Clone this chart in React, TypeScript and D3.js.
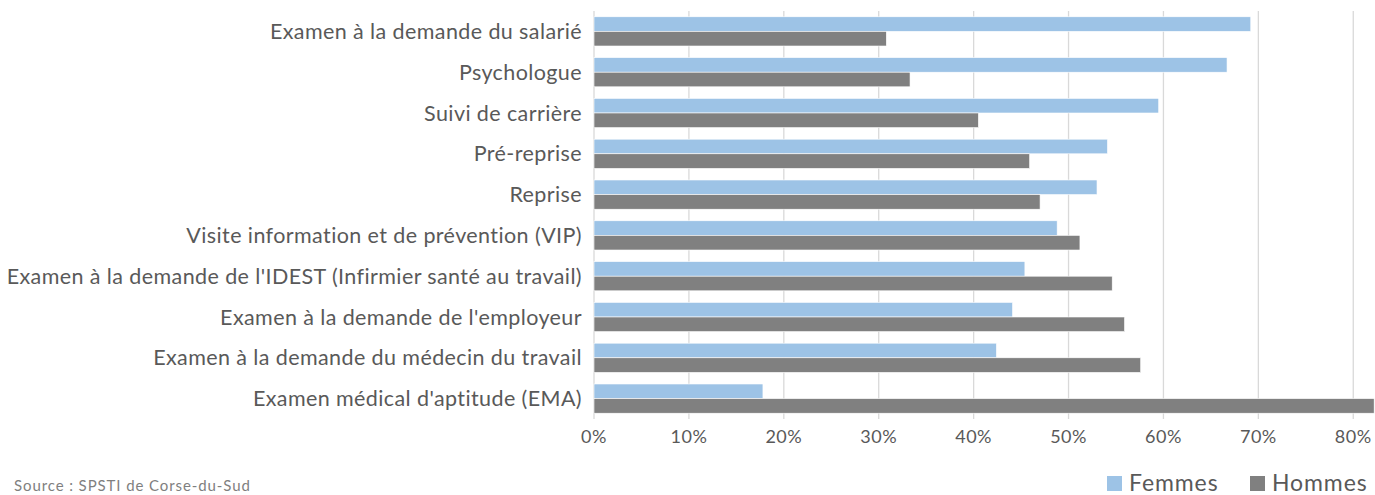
import React from "react";
import * as d3 from "d3";

// categories top to bottom
const categories = [
  "Examen à la demande du salarié",
  "Psychologue",
  "Suivi de carrière",
  "Pré-reprise",
  "Reprise",
  "Visite information et de prévention (VIP)",
  "Examen à la demande de l'IDEST (Infirmier santé au travail)",
  "Examen à la demande de l'employeur",
  "Examen à la demande du médecin du travail",
  "Examen médical d'aptitude (EMA)",
];

const femmes = [0.692, 0.667, 0.595, 0.541, 0.53, 0.488, 0.454, 0.441, 0.424, 0.178];
const hommes = [0.308, 0.333, 0.405, 0.459, 0.47, 0.512, 0.546, 0.559, 0.576, 0.822];

const xTicks = [0, 0.1, 0.2, 0.3, 0.4, 0.5, 0.6, 0.7, 0.8];

const seriesNames = ["Femmes", "Hommes"];
const colors = ["#9DC3E6", "#808080"];

const W = 1375;
const H = 495;
const margin = { top: 11, right: 0, bottom: 76, left: 594 };
const font = "Lato, 'Open Sans', sans-serif";

const App = () => {
  const x = d3
    .scaleLinear()
    .domain([0, 0.8229])
    .range([margin.left, W - margin.right]);

  const y = d3
    .scaleBand()
    .domain(categories)
    .range([margin.top, H - margin.bottom])
    .paddingInner(0.284)
    .paddingOuter(0.142);

  const inner = d3
    .scaleBand()
    .domain(seriesNames)
    .range([0, y.bandwidth()]);

  const values = [femmes, hommes];
  const plotBottom = H - margin.bottom;

  return (
    <div style={{ position: "absolute", left: 0, top: 0 }}>
      <svg width={W} height={H} style={{ display: "block", background: "#fff" }}>
        {/* grid */}
        {xTicks.map((t) => (
          <line
            key={t}
            x1={x(t)}
            x2={x(t)}
            y1={margin.top}
            y2={plotBottom}
            stroke="#D9D9D9"
            strokeWidth={1.3}
          />
        ))}

        {/* bars */}
        {values.map((vals, s) =>
          categories.map((c, i) => (
            <rect
              key={c + s}
              x={x(0)}
              y={(y(c) as number) + (inner(seriesNames[s]) as number)}
              width={x(vals[i]) - x(0)}
              height={inner.bandwidth()}
              fill={colors[s]}
              stroke="#fff"
              strokeWidth={0.6}
            />
          ))
        )}

        {/* category labels */}
        {categories.map((c) => (
          <text
            key={c}
            x={margin.left - 12}
            y={(y(c) as number) + y.bandwidth() / 2}
            dy="0.35em"
            textAnchor="end"
            fontFamily={font}
            fontSize={21.5}
            letterSpacing={0.4}
            fill="#595959"
          >
            {c}
          </text>
        ))}

        {/* x tick labels */}
        {xTicks.map((t) => (
          <text
            key={t}
            x={x(t)}
            y={plotBottom + 18}
            dy="0.35em"
            textAnchor="middle"
            fontFamily={font}
            fontSize={18}
            letterSpacing={0.5}
            fill="#595959"
          >
            {d3.format(".0%")(t)}
          </text>
        ))}

        {/* legend */}
        {seriesNames.map((name, s) => {
          const lx = s === 0 ? 1107 : 1250;
          return (
            <g key={name} transform={`translate(${lx},476)`}>
              <rect width={15} height={15} fill={colors[s]} />
              <text
                x={22}
                y={15}
                fontFamily={font}
                fontSize={23}
                letterSpacing={0.9}
                fill="#595959"
              >
                {name}
              </text>
            </g>
          );
        })}

        {/* source */}
        <text
          x={14}
          y={491}
          fontFamily={font}
          fontSize={15}
          letterSpacing={0.9}
          fill="#7F7F7F"
        >
          Source : SPSTI de Corse-du-Sud
        </text>
      </svg>
    </div>
  );
};

export default App;
